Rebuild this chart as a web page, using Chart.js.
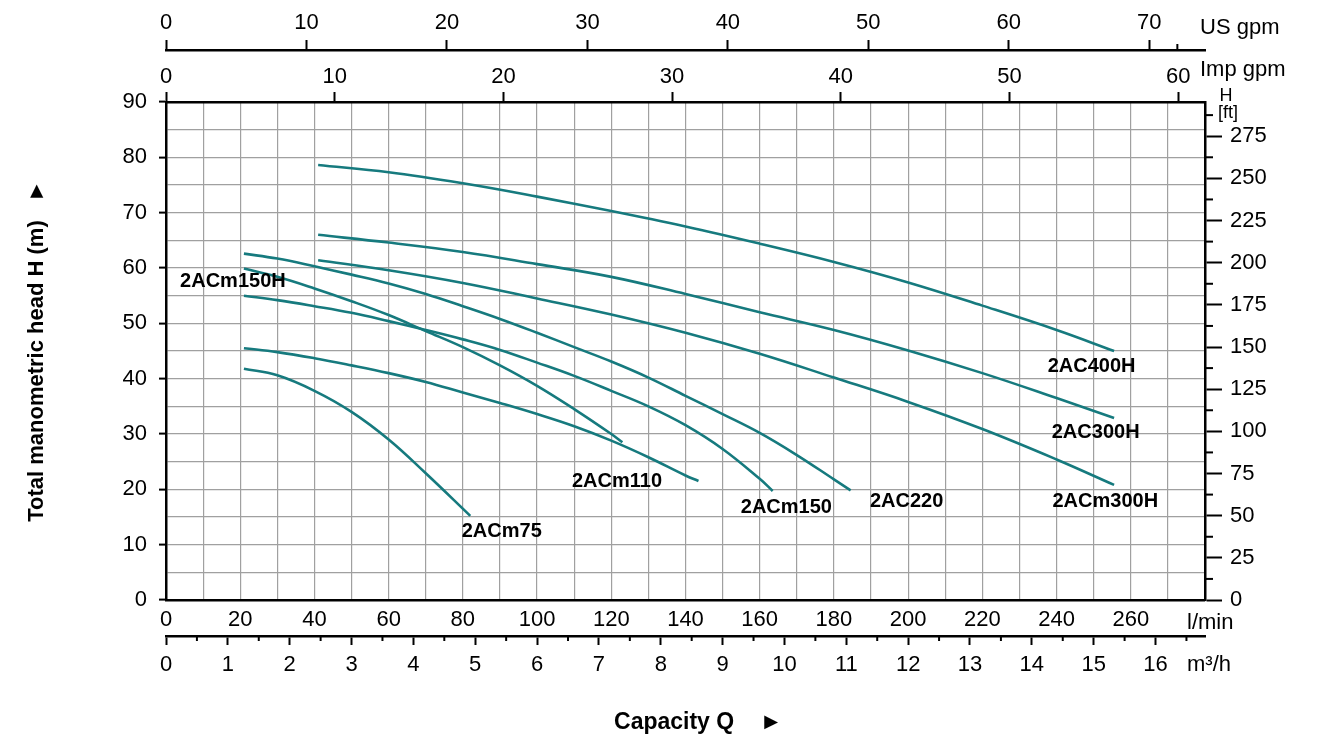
<!DOCTYPE html>
<html>
<head>
<meta charset="utf-8">
<title>Pump curves</title>
<script src="https://cdn.jsdelivr.net/npm/chart.js@4.4.0/dist/chart.umd.min.js"></script>
<style>
  html, body { margin: 0; padding: 0; background: #fff; }
  #wrap { width: 1325px; height: 740px; position: relative; }
</style>
</head>
<body>
<div id="wrap"><canvas id="pumpChart"></canvas></div>
<script>
// capacity (l/min) and head (m)
const q75 = [21, 30, 40, 50, 60, 70, 82];
const h75 = [41.8, 40.6, 37.8, 34.0, 29.0, 22.9, 15.2];

const q110 = [21, 30, 40, 50, 60, 70, 80, 90, 100, 110, 120, 130, 140, 143.5];
const h110 = [45.5, 44.8, 43.7, 42.4, 41.0, 39.4, 37.5, 35.6, 33.6, 31.4, 28.8, 25.8, 22.5, 21.5];

const q150 = [21, 30, 40, 50, 60, 70, 80, 90, 100, 110, 120, 130, 140, 150, 160, 163.5];
const h150 = [55.0, 54.2, 53.1, 51.9, 50.4, 48.8, 47.1, 45.2, 42.9, 40.5, 37.8, 35.0, 31.6, 27.3, 21.9, 19.7];

const q150H = [21, 30, 40, 50, 60, 70, 80, 90, 100, 110, 120, 123];
const h150H = [59.9, 58.4, 56.3, 54.0, 51.5, 48.6, 45.7, 42.4, 38.7, 34.5, 30.0, 28.5];

const q220 = [21, 30, 40, 50, 60, 70, 80, 90, 100, 110, 120, 130, 140, 150, 160, 170, 180, 184.5];
const h220 = [62.6, 61.7, 60.3, 58.8, 57.2, 55.3, 53.1, 50.8, 48.3, 45.7, 43.1, 40.2, 36.9, 33.6, 30.2, 26.2, 21.8, 19.8];

const qBig = [41, 60, 80, 100, 120, 140, 160, 180, 200, 220, 240, 255.5];
const hm300H = [61.4, 59.6, 57.3, 54.5, 51.6, 48.3, 44.5, 40.2, 35.8, 30.9, 25.4, 20.8];
const h300H = [66.0, 64.6, 62.9, 60.7, 58.4, 55.3, 52.0, 48.8, 45.1, 41.0, 36.5, 32.9];
const h400H = [78.6, 77.3, 75.3, 72.9, 70.3, 67.5, 64.4, 61.1, 57.4, 53.2, 48.8, 45.0];

const seriesNames = ['2ACm75', '2ACm110', '2ACm150', '2ACm150H', '2AC220', '2ACm300H', '2AC300H', '2AC400H'];

// tick labels for every axis
const lminLabels = [0, 20, 40, 60, 80, 100, 120, 140, 160, 180, 200, 220, 240, 260];
const m3hLabels = [0, 1, 2, 3, 4, 5, 6, 7, 8, 9, 10, 11, 12, 13, 14, 15, 16];
const usgpmLabels = [0, 10, 20, 30, 40, 50, 60, 70];
const impgpmLabels = [0, 10, 20, 30, 40, 50, 60];
const headLabels = [0, 10, 20, 30, 40, 50, 60, 70, 80, 90];
const ftLabels = [0, 25, 50, 75, 100, 125, 150, 175, 200, 225, 250, 275];

// where each curve name sits (l/min, m)
const curveLabelAt = {
  '2ACm150H': [3.8, 57.5],
  '2AC400H': [237.6, 42.2],
  '2AC300H': [238.7, 30.3],
  '2ACm300H': [238.9, 17.8],
  '2AC220': [189.7, 17.8],
  '2ACm150': [154.9, 16.8],
  '2ACm110': [109.4, 21.4],
  '2ACm75': [79.7, 12.4]
};

const LMIN_MAX = 280;
const HEAD_MAX = 90;
const teal = '#167a7e';
const FONT = "'Liberation Sans', Arial, sans-serif";

const toPoints = (qs, hs) => qs.map((q, i) => ({ x: q, y: hs[i] }));
const curves = [
  toPoints(q75, h75), toPoints(q110, h110), toPoints(q150, h150), toPoints(q150H, h150H),
  toPoints(q220, h220), toPoints(qBig, hm300H), toPoints(qBig, h300H), toPoints(qBig, h400H)
];

const steps = (from, to, step) => {
  const out = [];
  for (let v = from; v <= to + 1e-9; v += step) out.push(+v.toFixed(3));
  return out;
};
const setTicks = values => scale => { scale.ticks = values.map(v => ({ value: v })); };
const labelFrom = list => v => (list.includes(v) ? String(v) : '');
const majorColor = list => c => (c.tick && list.includes(c.tick.value) ? '#000' : 'rgba(0,0,0,0)');

const tickFont = { family: FONT, size: 22 };

// short ticks for the unlabelled values
const minorTickLen = { ft: 8, m3h: 5, usgpm: 6 };
const minorTicks = {
  id: 'minorTicks',
  afterDraw(chart) {
    const ctx = chart.ctx;
    ctx.save();
    ctx.strokeStyle = '#000';
    ctx.lineWidth = 2;
    Object.entries(minorTickLen).forEach(([id, len]) => {
      const s = chart.scales[id];
      s.ticks.forEach(t => {
        if (t.label !== '') return;
        const p = s.getPixelForValue(t.value);
        ctx.beginPath();
        if (s.position === 'right') { ctx.moveTo(s.left, p); ctx.lineTo(s.left + len, p); }
        else if (s.position === 'bottom') { ctx.moveTo(p, s.top); ctx.lineTo(p, s.top + len); }
        else { ctx.moveTo(p, s.bottom); ctx.lineTo(p, s.bottom - len); }
        ctx.stroke();
      });
    });
    ctx.restore();
  }
};

// unit names at the end of the axes and the curve names
const textLabels = {
  id: 'textLabels',
  afterDraw(chart) {
    const ctx = chart.ctx;
    const s = chart.scales;
    ctx.save();
    ctx.fillStyle = '#000';
    ctx.textBaseline = 'middle';
    ctx.textAlign = 'left';
    ctx.font = '22px ' + FONT;
    ctx.fillText('US gpm', s.usgpm.right - 5, s.usgpm.top + 28);
    ctx.fillText('Imp gpm', s.impgpm.right - 5, s.impgpm.top + 20);
    ctx.fillText('l/min', s.x.right - 18, s.x.top + 23);
    ctx.fillText('m³/h', s.m3h.right - 18, s.m3h.top + 29);
    ctx.textAlign = 'center';
    ctx.font = '18px ' + FONT;
    ctx.fillText('H', s.ft.left + 21, s.ft.top - 6);
    ctx.fillText('[ft]', s.ft.left + 23, s.ft.top + 11);

    ctx.textAlign = 'left';
    ctx.font = 'bold 20px ' + FONT;
    seriesNames.forEach(name => {
      const [q, h] = curveLabelAt[name];
      ctx.fillText(name, s.x.getPixelForValue(q), s.y.getPixelForValue(h));
    });
    ctx.restore();
  }
};

new Chart(document.getElementById('pumpChart'), {
  type: 'line',
  data: {
    datasets: curves.map((pts, i) => ({
      label: seriesNames[i],
      data: pts,
      xAxisID: 'x',
      yAxisID: 'y',
      borderColor: teal,
      borderWidth: 2.6,
      pointRadius: 0,
      fill: false,
      tension: 0.4
    }))
  },
  options: {
    responsive: true,
    maintainAspectRatio: false,
    animation: false,
    layout: { padding: 0 },
    plugins: { legend: { display: false }, tooltip: { enabled: false } },
    scales: {
      x: {
        type: 'linear', position: 'bottom', weight: 0,
        min: 0, max: LMIN_MAX,
        afterBuildTicks: setTicks(steps(0, LMIN_MAX, 10)),
        afterFit: s => { s.height = 36; },
        ticks: { callback: labelFrom(lminLabels), autoSkip: false, maxRotation: 0, padding: 7, color: '#000', font: tickFont },
        grid: { color: '#a0a0a0', lineWidth: 1.2, drawTicks: false },
        border: { color: '#000', width: 2.5 }
      },
      m3h: {
        type: 'linear', position: 'bottom', weight: 1,
        min: 0, max: LMIN_MAX * 60 / 1000,
        afterBuildTicks: setTicks(steps(0, 16.5, 0.5)),
        afterFit: s => { s.height = 104; },
        ticks: { callback: labelFrom(m3hLabels), autoSkip: false, maxRotation: 0, padding: 7, color: '#000', font: tickFont },
        grid: { drawOnChartArea: false, tickLength: 9, tickWidth: 2, tickColor: majorColor(m3hLabels) },
        border: { color: '#000', width: 2.5 },
        title: { display: true, text: '    Capacity Q    ►', color: '#000', font: { family: FONT, size: 23, weight: 'bold' }, padding: { top: 0, bottom: 4 } }
      },
      impgpm: {
        type: 'linear', position: 'top', weight: 0,
        min: 0, max: LMIN_MAX / 4.54609,
        afterBuildTicks: setTicks(impgpmLabels),
        afterFit: s => { s.height = 52; },
        ticks: { callback: labelFrom(impgpmLabels), autoSkip: false, maxRotation: 0, padding: 2, color: '#000', font: tickFont },
        grid: { drawOnChartArea: false, tickLength: 10, tickWidth: 2, tickColor: '#000' },
        border: { color: '#000', width: 2.5 }
      },
      usgpm: {
        type: 'linear', position: 'top', weight: 1,
        min: 0, max: LMIN_MAX / 3.78541,
        afterBuildTicks: setTicks(usgpmLabels.concat([72])),
        afterFit: s => { s.height = 50; },
        ticks: { callback: labelFrom(usgpmLabels), autoSkip: false, maxRotation: 0, padding: 4, color: '#000', font: tickFont },
        grid: { drawOnChartArea: false, tickLength: 10, tickWidth: 2, tickColor: majorColor(usgpmLabels) },
        border: { color: '#000', width: 2.5 }
      },
      y: {
        type: 'linear', position: 'left',
        min: 0, max: HEAD_MAX,
        afterBuildTicks: setTicks(steps(0, HEAD_MAX, 5)),
        afterFit: s => { s.width = 166; },
        ticks: { callback: labelFrom(headLabels), autoSkip: false, padding: 12, color: '#000', font: tickFont },
        grid: { color: '#a0a0a0', lineWidth: 1.2, tickLength: 7, tickWidth: 2, tickColor: majorColor(headLabels) },
        border: { color: '#000', width: 2.5 },
        title: { display: true, text: 'Total manometric head H (m)   ►', color: '#000', font: { family: FONT, size: 22, weight: 'bold' }, padding: { top: 24, bottom: 0 } }
      },
      ft: {
        type: 'linear', position: 'right',
        min: 0, max: HEAD_MAX / 0.3048,
        afterBuildTicks: setTicks(steps(0, 287.5, 12.5)),
        afterFit: s => { s.width = 120; },
        ticks: { callback: labelFrom(ftLabels), autoSkip: false, padding: 8, color: '#000', font: tickFont },
        grid: { drawOnChartArea: false, tickLength: 17, tickWidth: 2, tickColor: majorColor(ftLabels) },
        border: { color: '#000', width: 2.5 }
      }
    }
  },
  plugins: [minorTicks, textLabels]
});
</script>
</body>
</html>
